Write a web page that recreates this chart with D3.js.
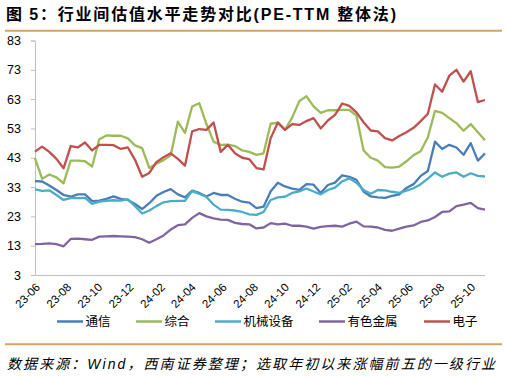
<!DOCTYPE html>
<html><head><meta charset="utf-8">
<script src="https://cdn.jsdelivr.net/npm/d3@7"></script>
<style>body{margin:0;background:#fff}</style>
</head><body><svg id="c" width="507" height="377"></svg>
<script>
const seriesNames = ["通信","综合","机械设备","有色金属","电子"];
const seriesColors = ["#4A7EBB","#9BBB59","#4BACC6","#8064A2","#C0504D"];
const startDate = "2023-06-02";
const stepDays = 14;
const telecom = [35,34.9,33.5,32,30.3,29.7,30.5,30.5,28.2,28.4,29,29.8,29,28.6,27.2,25.5,27.5,30,31.3,32.3,30.5,29.5,31.8,31,29.8,31,30.3,30.3,29,28,27.7,25.8,26.3,31.6,34.5,33.2,32.5,32,34,33.8,31,33.7,34.5,37,36.5,35.5,31.5,29.8,29.5,29.3,30,30.5,32.7,34,36.8,38.5,48.5,46,47.4,46.5,44,48,42,44.5];
const composite = [42.8,35.8,37.3,36.3,34.3,42,42,41.8,40,49.3,50.6,50.5,50.5,49.6,47.2,46.3,39.5,41,42.2,43.8,55.3,51.5,60.5,61.6,54.5,48.5,47.4,47.5,47,45.5,45,44,44.5,54.6,55,52.5,56.7,62.3,64,60.5,58.3,59.2,59.2,59.3,59.3,57.4,45.5,43,42,39.8,39.6,40,41.8,43.9,45.2,50,59,58.3,56.5,54.8,52.2,54.5,51.7,49];
const machinery = [32.2,31.7,31.9,30.3,28.6,29.2,29.2,29.3,27.3,28,28.3,28.5,28.4,28.8,26.5,24,25,26.5,27.8,28.2,28.3,28.3,31.6,30.7,29.6,27,25.3,25.2,25,24.5,23.7,23.5,24.5,28.6,29.5,29.7,31,31.5,32.5,31.5,30.5,32,32.8,34.9,36,34.5,32,30.7,32,31.9,31.4,31,31.8,32.6,34,35.9,38,36.5,37.6,38,36.5,37.7,36.8,36.6];
const metals = [13.5,13.6,13.8,13.5,12.8,15.3,15.4,15.2,15,16.1,16.2,16.3,16.2,16.1,15.9,15.2,14,15.2,16.5,18.5,20,20.3,22.5,24.1,23,22.3,21.9,21.8,20.8,20.4,20.3,18.9,19.2,20.7,20.3,20.5,19.8,19.8,19.5,18.8,19.4,19.7,19.8,19.5,20.5,21.2,19.6,19.5,19.2,18.4,18.1,18.8,19.5,19.9,21.1,21.6,22.8,24.5,24.7,26.5,27,27.6,25.8,25.3];
const electronics = [45.1,46.8,45,42.6,39.4,47,46.5,48.2,45.5,47.4,47.4,47.3,46,46.5,42.3,36.5,37.8,41.5,43.2,44.5,42.6,40.3,52,52.8,52.5,55,45,47.4,44.5,43,42.5,39.5,39,49.7,55,52.5,54.5,54.2,55.5,56.5,53,55.7,57.6,61.5,60.7,58.5,55.1,52.3,52,49.7,48.9,50.4,51.7,53.2,55.5,58,68,65.5,71,73,69,72.5,62,62.7];
const yTicks = [3,13,23,33,43,53,63,73,83];
const xTickLabels = ["23-06","23-08","23-10","23-12","24-02","24-04","24-06","24-08","24-10","24-12","25-02","25-04","25-06","25-08","25-10"];

const seriesValues = [telecom, composite, machinery, metals, electronics];
const parseDay = d3.timeParse("%Y-%m-%d");
const parseTick = d3.timeParse("%y-%m");
const start = parseDay(startDate);
const dates = telecom.map((_, i) => d3.timeDay.offset(start, stepDays * i));

const svg = d3.select("#c");
const plotL = 35, plotR = 485, plotT = 40.5, plotB = 275;
const x = d3.scaleTime().domain([dates[0], dates[dates.length - 1]]).range([plotL, plotR]);
const y = d3.scaleLinear().domain([3, 83]).range([plotB, plotT]);

const gold = "#D6A461";
// Title
const title = svg.append("text").attr("x", 6).attr("y", 19.5)
  .attr("textLength", 390).attr("lengthAdjust", "spacing")
  .style("font-family", "'Liberation Sans','Noto Sans CJK SC',sans-serif")
  .style("font-size", "16px").style("fill", "#000");
title.append("tspan").text("图 ").style("font-family","'Noto Sans CJK SC'").style("font-weight","bold");
title.append("tspan").text("5").style("font-weight","bold");
title.append("tspan").text("：行业间估值水平走势对比").style("font-family","'Noto Sans CJK SC'").style("font-weight","bold");
title.append("tspan").text("(PE-TTM ").style("font-weight","bold");
title.append("tspan").text("整体法").style("font-family","'Noto Sans CJK SC'").style("font-weight","bold");
title.append("tspan").text(")").style("font-weight","bold");

svg.append("line").attr("x1", 5).attr("x2", 502).attr("y1", 30.7).attr("y2", 30.7)
  .attr("stroke", gold).attr("stroke-width", 2);
svg.append("line").attr("x1", 5).attr("x2", 502).attr("y1", 344.3).attr("y2", 344.3)
  .attr("stroke", gold).attr("stroke-width", 2);

// Y axis
const yAxis = d3.axisLeft(y).tickValues(yTicks).tickSize(4).tickPadding(10);
const gy = svg.append("g").attr("transform", `translate(${plotL},0)`).call(yAxis);
gy.select(".domain").attr("stroke", "#BFBFBF");
gy.selectAll(".tick line").attr("stroke", "#BFBFBF");
gy.selectAll(".tick text").style("font-family", "'Liberation Sans',Arial,sans-serif")
  .style("font-size", "12.5px").style("fill", "#000");

// X axis
const xAxis = d3.axisBottom(x).tickValues(xTickLabels.map(parseTick))
  .tickFormat((d, i) => xTickLabels[i]).tickSize(0).tickSizeOuter(0);
const gx = svg.append("g").attr("transform", `translate(0,${plotB})`).call(xAxis);
gx.select(".domain").attr("stroke", "#BFBFBF").attr("d", `M${plotL},0.5H${plotR}`);
gx.selectAll(".tick text")
  .style("font-family", "'Liberation Sans',Arial,sans-serif").style("font-size", "11.5px").style("fill", "#000")
  .attr("text-anchor", "end").attr("dy", "0.35em").attr("y", 0)
  .attr("transform", "translate(3,10) rotate(-45)");

// Lines
const line = d3.line().x((d, i) => x(dates[i])).y(d => y(d));
seriesValues.forEach((vals, k) => {
  svg.append("path").datum(vals).attr("d", line).attr("fill", "none")
    .attr("stroke", seriesColors[k]).attr("stroke-width", 2.3).attr("stroke-linejoin", "round");
});

// Legend
const legendX = [57, 136, 215, 319, 424];
const lg = svg.append("g");
seriesNames.forEach((n, k) => {
  lg.append("line").attr("x1", legendX[k]).attr("x2", legendX[k] + 26).attr("y1", 321.5).attr("y2", 321.5)
    .attr("stroke", seriesColors[k]).attr("stroke-width", 2.5);
  lg.append("text").attr("x", legendX[k] + 28.5).attr("y", 326).text(n)
    .style("font-family", "'Noto Sans CJK SC',sans-serif").style("font-size", "12.5px").style("fill", "#000");
});

// Source
const src = svg.append("text").attr("x", 7).attr("y", 369).attr("textLength", 488).attr("lengthAdjust", "spacing")
  .style("font-size", "14px").style("font-style", "italic").style("fill", "#000");
src.append("tspan").text("数据来源：").style("font-family", "'Noto Sans CJK SC'");
src.append("tspan").text("Wind").style("font-family", "'Liberation Sans',Arial");
src.append("tspan").text("，西南证券整理；选取年初以来涨幅前五的一级行业").style("font-family", "'Noto Sans CJK SC'");
</script></body></html>
